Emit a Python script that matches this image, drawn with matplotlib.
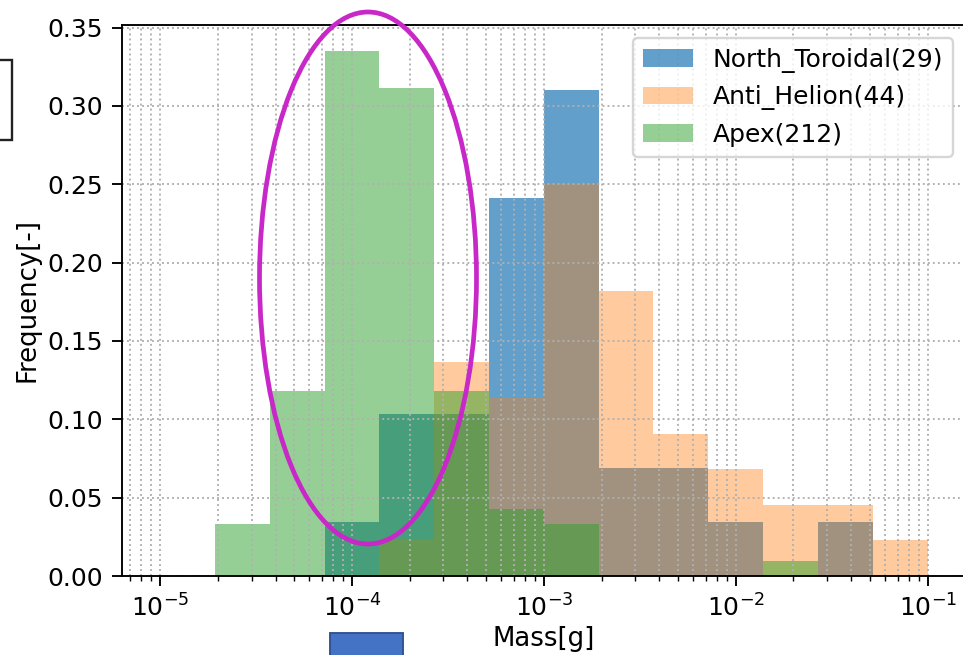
import numpy as np
import matplotlib
matplotlib.use("Agg")
from matplotlib import pyplot as plt
from matplotlib.patches import Ellipse, Rectangle

# counts per log-spaced mass bin (14 bins from 1e-5 g to 1e-1 g)
bin_edges = np.logspace(-5, -1, 15)
north_toroidal = np.array([0, 0, 0, 1, 3, 3, 7, 9, 2, 2, 1, 0, 1, 0])
anti_helion = np.array([0, 0, 0, 0, 1, 6, 5, 11, 8, 4, 3, 2, 2, 1])
apex = np.array([0, 7, 25, 71, 66, 25, 9, 7, 0, 0, 0, 2, 0, 0])
totals = {"North_Toroidal": 29, "Anti_Helion": 44, "Apex": 212}

plt.rcParams["font.size"] = 10.6
plt.rcParams["axes.labelsize"] = 11
plt.rcParams["xtick.major.size"] = 4.3
plt.rcParams["ytick.major.size"] = 4.3
plt.rcParams["xtick.minor.size"] = 2.2

W, H, DPI = 963, 655, 170
fig = plt.figure(figsize=(W / DPI, H / DPI), dpi=DPI)
ax = fig.add_axes([121.65 / W, (H - 576) / H, (966 - 121.65) / W, 551 / H])

centers = np.sqrt(bin_edges[:-1] * bin_edges[1:])
series = [("North_Toroidal", north_toroidal, "C0", 0.7),
          ("Anti_Helion", anti_helion, "C1", 0.4),
          ("Apex", apex, "C2", 0.5)]
for name, counts, color, alpha in series:
    n = totals[name]
    ax.hist(centers, bins=bin_edges, weights=counts / n, color=color,
            alpha=alpha, label=f"{name}({n})")

ax.set_xscale("log")
ax.set_xlim(10 ** -5.2, 10 ** -0.8)
ax.set_xlabel("Mass[g]", labelpad=2)
ax.set_ylabel("Frequency[-]", labelpad=3)
ax.grid(True, which="both", linestyle=":")
ax.legend(loc="upper right")

# screenshot annotations
fig.patches.append(Ellipse((368 / W, 1 - 278 / H), 217 / W, 532 / H,
                           transform=fig.transFigure, fill=False,
                           edgecolor="#c828c8", linewidth=2.0, zorder=10))
fig.patches.append(Rectangle((-10 / W, 1 - 140 / H), 22 / W, 80 / H,
                             transform=fig.transFigure, fill=False,
                             edgecolor="#222222", linewidth=1.0, zorder=10))
fig.patches.append(Rectangle((330 / W, -10 / H), 73 / W, 32 / H,
                             transform=fig.transFigure, facecolor="#4472c4",
                             edgecolor="#2f528f", linewidth=0.8, zorder=10))

fig.savefig("out.png", dpi=DPI)
plt.close()
